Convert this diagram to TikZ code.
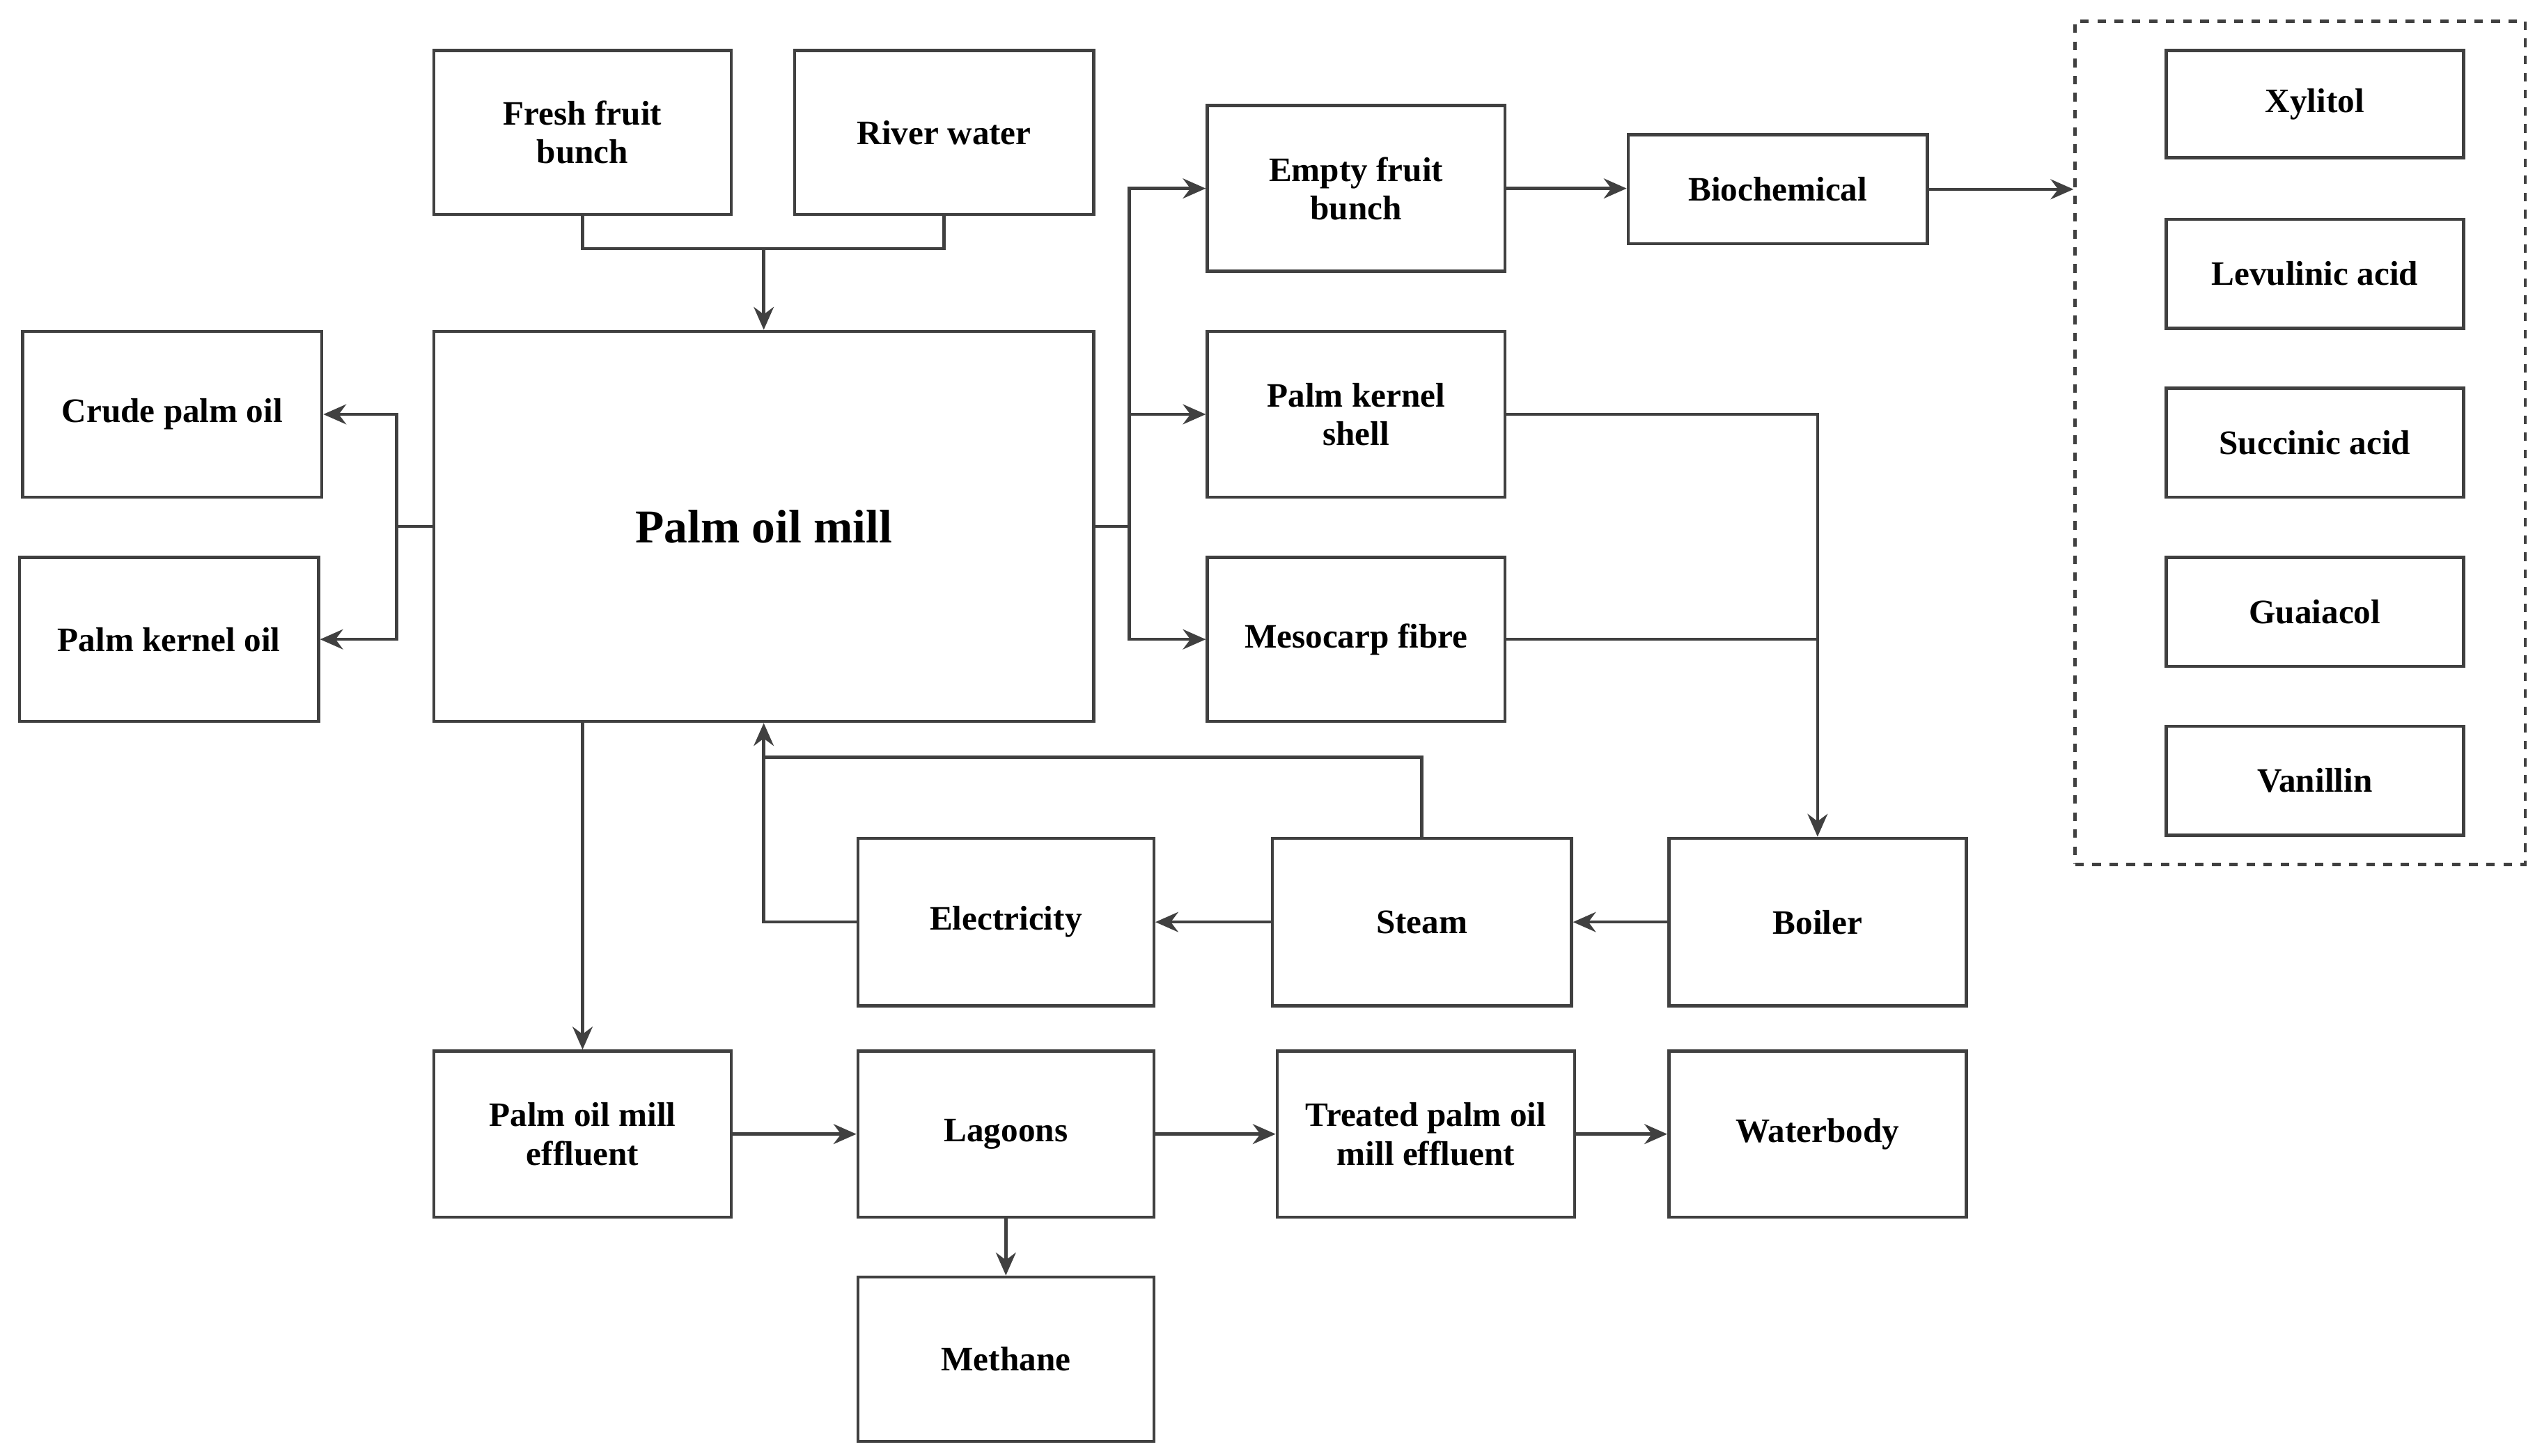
\documentclass[tikz,border=0pt]{standalone}
\usepackage{fontspec}
\setmainfont{Liberation Serif}
\usetikzlibrary{arrows.meta}
\definecolor{ln}{HTML}{404040}
\tikzset{
 box/.style={draw=ln,line width=1.1pt,inner sep=0pt,align=center,font=\fontsize{12}{13.5}\selectfont\bfseries},
 ar/.style={draw=ln,line width=1.1pt,-{Stealth[length=8pt,width=7pt]}},
 ln/.style={draw=ln,line width=1.1pt}
}
\newcommand\bx[6]{\node[box,minimum width={(#4-#2)*0.02cm-1.1pt},minimum height={(#5-#3)*0.02cm-1.1pt}] (#1) at ({(#2+#4)/2},{(#3+#5)/2}) {#6};}
\begin{document}
\begin{tikzpicture}[x=0.02cm,y=-0.02cm]
\useasboundingbox (0,0) rectangle (1560,896);
\bx{ffb}{266}{30}{451}{133}{Fresh fruit\\bunch}
\bx{rw}{488}{30}{674}{133}{River water}
\node[box,font=\fontsize{16.5}{18}\selectfont\bfseries,minimum width={408*0.02cm-1.1pt},minimum height={242*0.02cm-1.1pt}] (mill) at (470,324) {Palm oil mill};
\bx{cpo}{13}{203}{199}{307}{Crude palm oil}
\bx{pko}{11}{342}{197}{445}{Palm kernel oil}
\bx{efb}{742}{64}{927}{168}{Empty fruit\\bunch}
\bx{bio}{1001}{82}{1187}{151}{Biochemical}
\bx{pks}{742}{203}{927}{307}{Palm kernel\\shell}
\bx{mf}{742}{342}{927}{445}{Mesocarp fibre}
\node[draw=ln,line width=1.1pt,dashed,minimum width={279*0.02cm-1.1pt},minimum height={521*0.02cm-1.1pt},inner sep=0pt] (dash) at (1415.5,272.5) {};
\bx{xy}{1332}{30}{1517}{98}{Xylitol}
\bx{lev}{1332}{134}{1517}{203}{Levulinic acid}
\bx{suc}{1332}{238}{1517}{307}{Succinic acid}
\bx{gua}{1332}{342}{1517}{411}{Guaiacol}
\bx{van}{1332}{446}{1517}{515}{Vanillin}
\bx{el}{527}{515}{711}{620}{Electricity}
\bx{st}{782}{515}{968}{620}{Steam}
\bx{bo}{1026}{515}{1211}{620}{Boiler}
\bx{pome}{266}{646}{451}{750}{Palm oil mill\\effluent}
\bx{lag}{527}{646}{711}{750}{Lagoons}
\bx{tp}{785}{646}{970}{750}{Treated palm oil\\mill effluent}
\bx{wb}{1026}{646}{1211}{750}{Waterbody}
\bx{me}{527}{785}{711}{888}{Methane}
\coordinate (j1) at (mill.north|-0,153);
\coordinate (jl) at (244,324);
\coordinate (jr) at (695,324);
\draw[ln] (ffb.south) |- (j1) -| (rw.south);
\draw[ar] (j1) -- (mill.north);
\draw[ln] (mill.west) -- (jl);
\draw[ar] (jl) |- (cpo.east);
\draw[ar] (jl) |- (pko.east);
\draw[ln] (mill.east) -- (jr);
\draw[ar] (jr) |- (efb.west);
\draw[ar] (jr) |- (pks.west);
\draw[ar] (jr) |- (mf.west);
\draw[ar] (efb.east) -- (bio.west|-efb.east);
\draw[ar] (bio.east) -- (dash.west|-bio.east);
\draw[ar] (pks.east) -| (bo.north);
\draw[ln] (mf.east) -- (bo.north|-mf.east);
\draw[ar] (bo.west) -- (st.east);
\draw[ar] (st.west) -- (el.east);
\draw[ar] (el.west) -| (mill.south);
\draw[ln] (st.north) |- (mill.south|-0,466);
\draw[ar] (pome.north|-mill.south) -- (pome.north);
\draw[ar] (pome.east) -- (lag.west);
\draw[ar] (lag.east) -- (tp.west);
\draw[ar] (tp.east) -- (wb.west);
\draw[ar] (lag.south) -- (me.north);
\end{tikzpicture}
\end{document}
